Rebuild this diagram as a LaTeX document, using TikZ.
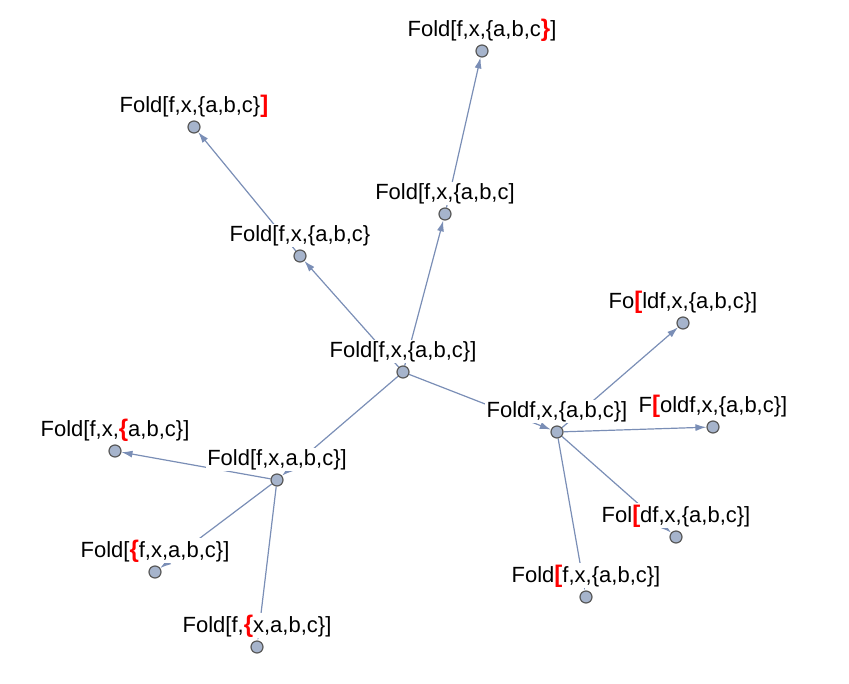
\documentclass[tikz,border=0pt]{standalone}
\usepackage{fontspec}
\setmainfont{Liberation Sans}
\usetikzlibrary{arrows.meta,positioning,backgrounds}
\definecolor{edgeblue}{RGB}{122,142,182}
\definecolor{vertexgrey}{RGB}{166,180,204}
\newcommand{\rb}[1]{\textcolor{red}{\fontsize{24}{26}\selectfont\bfseries #1}}
\tikzset{
  fd/vertex/.style={circle, draw=black!65, fill=vertexgrey, line width=1.2pt, minimum size=12pt, inner sep=0pt},
  fd/label/.style={fill=white, inner sep=1.5pt, anchor=base, font=\fontsize{22}{26}\selectfont},
  fd/edge/.style={draw=edgeblue, line width=1.2pt, -{Latex[length=11pt,width=7pt]}}
}
\begin{document}
\begin{tikzpicture}[x=1pt,y=-1pt]
  \useasboundingbox (0,0) rectangle (849,683);
  % vertices
  \node[fd/vertex] (r)  at (403,372) {};
  \node[fd/vertex] (a)  at (300,256) {};
  \node[fd/vertex] (a1) at (194,127) {};
  \node[fd/vertex] (b)  at (445,214) {};
  \node[fd/vertex] (b1) at (482,51) {};
  \node[fd/vertex] (c)  at (557,432) {};
  \node[fd/vertex] (c1) at (683,323) {};
  \node[fd/vertex] (c2) at (713,427) {};
  \node[fd/vertex] (c3) at (676,537) {};
  \node[fd/vertex] (c4) at (586,597) {};
  \node[fd/vertex] (d)  at (277,480) {};
  \node[fd/vertex] (d1) at (115,451) {};
  \node[fd/vertex] (d2) at (155,572) {};
  \node[fd/vertex] (d3) at (257,647) {};

  % edges
  \begin{scope}[on background layer]
    \draw[fd/edge] (r) -- (a);
    \draw[fd/edge] (a) -- (a1);
    \draw[fd/edge] (r) -- (b);
    \draw[fd/edge] (b) -- (b1);
    \draw[fd/edge] (r) -- (c);
    \draw[fd/edge] (c) -- (c1);
    \draw[fd/edge] (c) -- (c2);
    \draw[fd/edge] (c) -- (c3);
    \draw[fd/edge] (c) -- (c4);
    \draw[fd/edge] (r) -- (d);
    \draw[fd/edge] (d) -- (d1);
    \draw[fd/edge] (d) -- (d2);
    \draw[fd/edge] (d) -- (d3);
  \end{scope}

  % labels
  \node[fd/label] (r-l)  at ([yshift=15pt]r.center)  {Fold[f,x,\{a,b,c\}]};
  \node[fd/label] (a-l)  at ([yshift=15pt]a.center)  {Fold[f,x,\{a,b,c\}};
  \node[fd/label] (a1-l) at ([yshift=15pt]a1.center) {Fold[f,x,\{a,b,c\}\rb{]}};
  \node[fd/label] (b-l)  at ([yshift=15pt]b.center)  {Fold[f,x,\{a,b,c]};
  \node[fd/label] (b1-l) at ([yshift=15pt]b1.center) {Fold[f,x,\{a,b,c\rb{\}}]};
  \node[fd/label] (c-l)  at ([yshift=15pt]c.center)  {Foldf,x,\{a,b,c\}]};
  \node[fd/label] (c1-l) at ([yshift=15pt]c1.center) {Fo\rb{[}ldf,x,\{a,b,c\}]};
  \node[fd/label] (c2-l) at ([yshift=15pt]c2.center) {F\rb{[}oldf,x,\{a,b,c\}]};
  \node[fd/label] (c3-l) at ([yshift=15pt]c3.center) {Fol\rb{[}df,x,\{a,b,c\}]};
  \node[fd/label] (c4-l) at ([yshift=15pt]c4.center) {Fold\rb{[}f,x,\{a,b,c\}]};
  \node[fd/label] (d-l)  at ([yshift=15pt]d.center)  {Fold[f,x,a,b,c\}]};
  \node[fd/label] (d1-l) at ([yshift=15pt]d1.center) {Fold[f,x,\rb{\{}a,b,c\}]};
  \node[fd/label] (d2-l) at ([yshift=15pt]d2.center) {Fold[\rb{\{}f,x,a,b,c\}]};
  \node[fd/label] (d3-l) at ([yshift=15pt]d3.center) {Fold[f,\rb{\{}x,a,b,c\}]};
\end{tikzpicture}
\end{document}
